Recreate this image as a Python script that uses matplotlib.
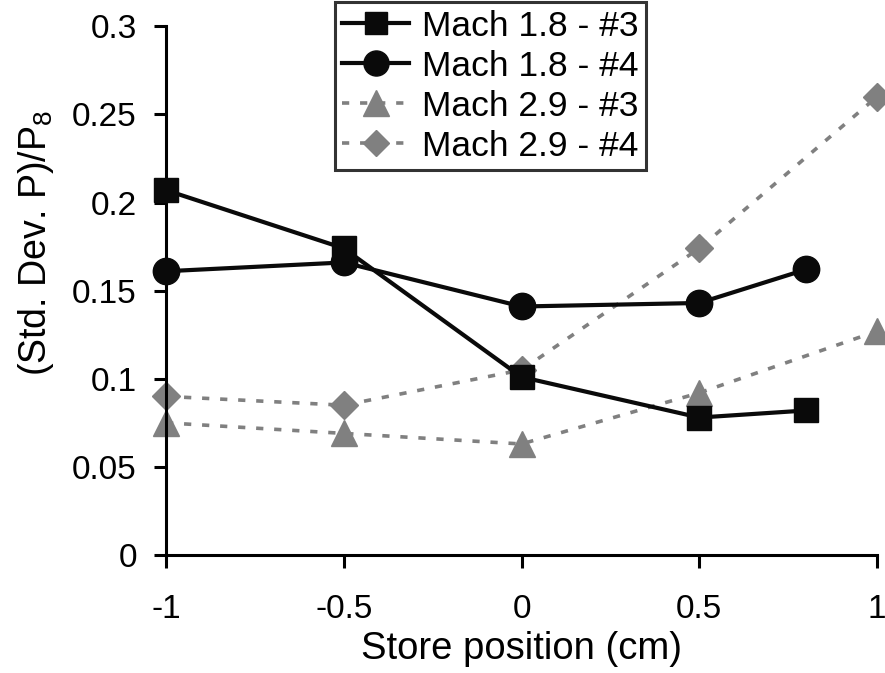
import matplotlib
matplotlib.use('Agg')
import matplotlib.pyplot as plt

plt.rcParams['font.family'] = ['Liberation Sans', 'DejaVu Sans']

# posição do store (cm)
pos_18 = [-1, -0.5, 0, 0.5, 0.8]
pos_29 = [-1, -0.5, 0, 0.5, 1]

# desvio padrão normalizado
m18_3 = [0.207, 0.174, 0.101, 0.078, 0.082]
m18_4 = [0.161, 0.166, 0.141, 0.143, 0.162]
m29_3 = [0.075, 0.069, 0.063, 0.092, 0.127]
m29_4 = [0.090, 0.085, 0.105, 0.174, 0.260]

fig = plt.figure(figsize=(8.85, 6.73), dpi=100)
ax = fig.add_axes([0.1876, 0.1753, 0.8034, 0.7857])

cinza = '#808080'
preto = '#0a0a0a'
tracejado = (0, (2.0, 3.0))
ax.plot(pos_29, m29_3, color=cinza, lw=2.6, ls=tracejado, marker='^',
        ms=19, mec=cinza, mfc=cinza, label='Mach 2.9 - #3', zorder=2)
ax.plot(pos_29, m29_4, color=cinza, lw=2.6, ls=tracejado, marker='D',
        ms=14, mec=cinza, mfc=cinza, label='Mach 2.9 - #4', zorder=2)
ax.plot(pos_18, m18_3, color=preto, lw=3, marker='s', ms=17,
        mfc=preto, mec=preto, label='Mach 1.8 - #3', zorder=3)
ax.plot(pos_18, m18_4, color=preto, lw=3, marker='o', ms=19,
        mfc=preto, mec=preto, label='Mach 1.8 - #4', zorder=3)

ax.set_xlim(-1, 1)
ax.set_ylim(0, 0.3)
ax.set_xticks([-1, -0.5, 0, 0.5, 1])
ax.set_xticklabels(['-1', '-0.5', '0', '0.5', '1'])
ax.set_yticks([0, 0.05, 0.1, 0.15, 0.2, 0.25, 0.3])
ax.set_yticklabels(['0', '0.05', '0.1', '0.15', '0.2', '0.25', '0.3'])

for lado in ['top', 'right']:
    ax.spines[lado].set_visible(False)
for lado in ['left', 'bottom']:
    ax.spines[lado].set_linewidth(2.2)
    ax.spines[lado].set_clip_on(False)
ax.tick_params(axis='both', direction='out', length=9, width=2.2,
               labelsize=24)
ax.tick_params(axis='y', pad=12)
ax.tick_params(axis='x', pad=19)

ax.set_xlabel('Store position (cm)', fontsize=27.5)
ax.xaxis.set_label_coords(0.5, -0.143)
ax.set_ylabel('(Std. Dev. P)/P$_\\mathregular{8}$', fontsize=27)
ax.yaxis.set_label_coords(-0.155, 0.59)

for l in ax.lines:
    l.set_clip_on(False)

handles, labels = ax.get_legend_handles_labels()
ordem = [2, 3, 0, 1]
leg = ax.legend([handles[i] for i in ordem], [labels[i] for i in ordem],
                loc='upper left', bbox_to_anchor=(0.2377, 1.045),
                fontsize=25.5, frameon=True, fancybox=False, handlelength=1.9,
                handletextpad=0.35, borderpad=0.2, labelspacing=0.2,
                borderaxespad=0, markerscale=0.95)
leg.get_frame().set_edgecolor('black')
leg.get_frame().set_linewidth(2.2)

fig.savefig('out.png', dpi=100)
